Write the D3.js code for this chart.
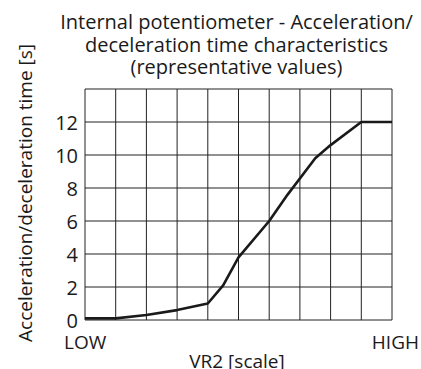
<!DOCTYPE html>
<html>
<head>
<meta charset="utf-8">
<script src="https://cdn.jsdelivr.net/npm/d3@7/dist/d3.min.js"></script>
<style>
  html, body { margin: 0; padding: 0; background: #fff; }
  text { font-family: "Open Sans", "Noto Sans", sans-serif; fill: #1a1a1a; }
</style>
</head>
<body>
<svg id="chart" width="421" height="369"></svg>
<script>
// Potentiometer position (0 = LOW, 10 = HIGH) and resulting time in seconds
const positions = [0, 1, 2, 3, 4, 4.5, 5, 6, 6.6, 7.5, 8, 9, 10];
const times     = [0.1, 0.1, 0.3, 0.6, 1.0, 2.1, 3.8, 6.0, 7.6, 9.8, 10.6, 12, 12];
const yTicks = [0, 2, 4, 6, 8, 10, 12];
const titleLines = ["Internal potentiometer - Acceleration/", "deceleration time characteristics", "(representative values)"];

const svg = d3.select("#chart");
const plot = { left: 85, right: 392, top: 89, bottom: 320 };

const x = d3.scaleLinear().domain([0, 10]).range([plot.left, plot.right]);
const y = d3.scaleLinear().domain([0, 14]).range([plot.bottom, plot.top]);

// grid
const g = svg.append("g");
g.selectAll("line.v").data(d3.range(0, 11)).join("line")
  .attr("x1", d => x(d)).attr("x2", d => x(d))
  .attr("y1", y(0)).attr("y2", y(14))
  .attr("stroke", "#222").attr("stroke-width", 1);
g.selectAll("line.h").data(d3.range(0, 15, 2)).join("line")
  .attr("y1", d => y(d)).attr("y2", d => y(d))
  .attr("x1", x(0)).attr("x2", x(10))
  .attr("stroke", "#222").attr("stroke-width", 1);

// y tick labels
svg.append("g").selectAll("text").data(yTicks).join("text")
  .attr("x", plot.left - 7).attr("y", d => y(d) + 1).attr("dy", "0.36em")
  .attr("text-anchor", "end").attr("font-size", 20).text(d => d);

// x end labels
svg.append("text").attr("x", 64).attr("y", 349).attr("font-size", 19).text("LOW");
svg.append("text").attr("x", 419).attr("y", 349).attr("text-anchor", "end").attr("font-size", 19).text("HIGH");
svg.append("text").attr("x", 237).attr("y", 368).attr("text-anchor", "middle").attr("font-size", 19).text("VR2 [scale]");

// y axis title
svg.append("text").attr("transform", "translate(32,193) rotate(-90)")
  .attr("text-anchor", "middle").attr("font-size", 19)
  .text("Acceleration/deceleration time [s]");

// title
svg.append("g").selectAll("text").data(titleLines).join("text")
  .attr("x", 236.5).attr("y", (d, i) => 29 + i * 22.5)
  .attr("text-anchor", "middle").attr("font-size", 20).text(d => d);

// curve
const line = d3.line().x((d, i) => x(positions[i])).y(d => y(d));
svg.append("path").datum(times).attr("d", line)
  .attr("fill", "none").attr("stroke", "#1a1a1a").attr("stroke-width", 2.6)
  .attr("stroke-linejoin", "round");
</script>
</body>
</html>
